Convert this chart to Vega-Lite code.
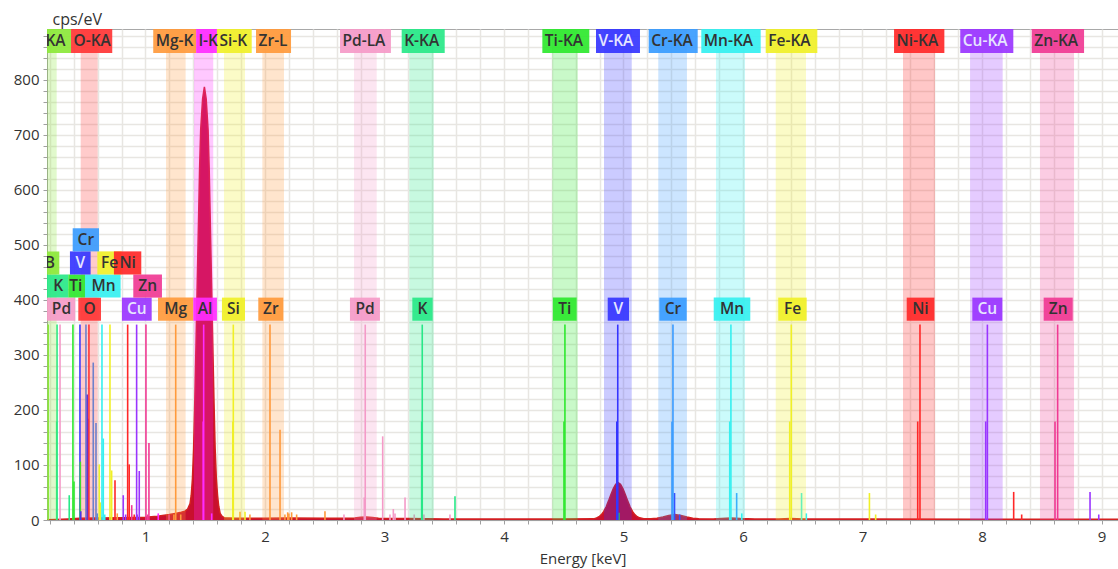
{
  "$schema": "https://vega.github.io/schema/vega-lite/v6.json",
  "width": 1071,
  "height": 491,
  "autosize": {"type": "none"},
  "padding": {"left": 47, "top": 29, "right": 0, "bottom": 49},
  "background": "white",
  "config": {
    "view": {"stroke": "#a8a8a8", "strokeWidth": 1},
    "font": "Open Sans",
    "axis": {
      "domainColor": "#a0a0a0",
      "tickColor": "#a0a0a0",
      "tickSize": 4,
      "gridColor": "#e8e6e2",
      "gridWidth": 1.5,
      "labelFont": "Open Sans",
      "labelFontSize": 15,
      "labelColor": "#333333",
      "titleFont": "Open Sans",
      "titleFontSize": 15,
      "titleFontWeight": "normal",
      "titleColor": "#333333",
      "labelOverlap": false,
      "labelFlush": false
    }
  },
  "datasets": {
    "spec": [
      {"e": 0.176, "c": 0.5}, {"e": 0.25, "c": 1}, {"e": 0.35, "c": 2}, {"e": 0.45, "c": 3},
      {"e": 0.6, "c": 3.5}, {"e": 0.8, "c": 4}, {"e": 1.0, "c": 5}, {"e": 1.1, "c": 7},
      {"e": 1.2, "c": 10}, {"e": 1.25, "c": 12}, {"e": 1.3, "c": 14}, {"e": 1.33, "c": 16},
      {"e": 1.353, "c": 20}, {"e": 1.373, "c": 30}, {"e": 1.383, "c": 45}, {"e": 1.393, "c": 75},
      {"e": 1.403, "c": 130}, {"e": 1.413, "c": 218}, {"e": 1.423, "c": 320}, {"e": 1.433, "c": 430},
      {"e": 1.444, "c": 545}, {"e": 1.453, "c": 640}, {"e": 1.462, "c": 709}, {"e": 1.478, "c": 765},
      {"e": 1.493, "c": 787}, {"e": 1.508, "c": 765}, {"e": 1.524, "c": 709}, {"e": 1.533, "c": 640},
      {"e": 1.542, "c": 545}, {"e": 1.553, "c": 430}, {"e": 1.563, "c": 320}, {"e": 1.573, "c": 218},
      {"e": 1.583, "c": 130}, {"e": 1.593, "c": 75}, {"e": 1.603, "c": 45}, {"e": 1.613, "c": 25},
      {"e": 1.625, "c": 12}, {"e": 1.64, "c": 7}, {"e": 1.66, "c": 4}, {"e": 1.75, "c": 3},
      {"e": 2.0, "c": 3}, {"e": 2.2, "c": 3.5}, {"e": 2.5, "c": 3}, {"e": 2.75, "c": 3.5},
      {"e": 2.8, "c": 5}, {"e": 2.85, "c": 5.5}, {"e": 2.9, "c": 4.5}, {"e": 2.95, "c": 3},
      {"e": 3.2, "c": 2.5}, {"e": 3.5, "c": 2}, {"e": 4.0, "c": 2}, {"e": 4.5, "c": 2},
      {"e": 4.75, "c": 2.1}, {"e": 4.775, "c": 3.9}, {"e": 4.795, "c": 6}, {"e": 4.815, "c": 9.7},
      {"e": 4.835, "c": 15.6}, {"e": 4.855, "c": 24}, {"e": 4.875, "c": 34.7}, {"e": 4.895, "c": 46.5},
      {"e": 4.915, "c": 57}, {"e": 4.935, "c": 65}, {"e": 4.955, "c": 68}, {"e": 4.975, "c": 65},
      {"e": 4.995, "c": 57}, {"e": 5.015, "c": 46.5}, {"e": 5.035, "c": 34.7}, {"e": 5.055, "c": 24},
      {"e": 5.075, "c": 15.6}, {"e": 5.095, "c": 9.7}, {"e": 5.115, "c": 6}, {"e": 5.135, "c": 3.9},
      {"e": 5.17, "c": 2.4}, {"e": 5.23, "c": 2.2}, {"e": 5.28, "c": 3.1}, {"e": 5.33, "c": 5.3},
      {"e": 5.38, "c": 8.4}, {"e": 5.43, "c": 10}, {"e": 5.48, "c": 8.4}, {"e": 5.53, "c": 5.3},
      {"e": 5.58, "c": 3.1}, {"e": 5.63, "c": 2.2}, {"e": 5.75, "c": 2}, {"e": 5.82, "c": 2.6},
      {"e": 5.9, "c": 3.5}, {"e": 5.98, "c": 2.6}, {"e": 6.1, "c": 2}, {"e": 6.3, "c": 2},
      {"e": 6.4, "c": 2.8}, {"e": 6.5, "c": 2}, {"e": 7.0, "c": 1.8}, {"e": 8.0, "c": 1.5},
      {"e": 9.14, "c": 1.5}
    ],
    "lines": [
      {"el": "B", "e": 0.186, "h": 355},
      {"el": "K", "e": 0.260, "h": 355}, {"el": "K", "e": 0.257, "h": 179}, {"el": "K", "e": 0.362, "h": 45},
      {"el": "Pd", "e": 0.285, "h": 355},
      {"el": "Ti", "e": 0.393, "h": 355}, {"el": "Ti", "e": 0.402, "h": 70},
      {"el": "V", "e": 0.452, "h": 355}, {"el": "Ti", "e": 0.455, "h": 106}, {"el": "V", "e": 0.459, "h": 16},
      {"el": "Cr", "e": 0.502, "h": 355}, {"el": "V", "e": 0.513, "h": 228}, {"el": "V", "e": 0.521, "h": 184},
      {"el": "O", "e": 0.527, "h": 355},
      {"el": "Cr", "e": 0.563, "h": 286}, {"el": "Cr", "e": 0.586, "h": 176}, {"el": "Cr", "e": 0.597, "h": 12},
      {"el": "Fe", "e": 0.613, "h": 101}, {"el": "Fe", "e": 0.622, "h": 32},
      {"el": "Mn", "e": 0.636, "h": 355}, {"el": "Mn", "e": 0.647, "h": 148}, {"el": "Mn", "e": 0.659, "h": 10},
      {"el": "Fe", "e": 0.703, "h": 355}, {"el": "Fe", "e": 0.717, "h": 90},
      {"el": "Ni", "e": 0.745, "h": 72}, {"el": "Mg", "e": 0.764, "h": 12},
      {"el": "Cu", "e": 0.814, "h": 45}, {"el": "Cu", "e": 0.834, "h": 10},
      {"el": "Ni", "e": 0.851, "h": 355}, {"el": "Ni", "e": 0.864, "h": 101}, {"el": "Zn", "e": 0.885, "h": 27},
      {"el": "Ni", "e": 0.906, "h": 10},
      {"el": "Cu", "e": 0.926, "h": 355}, {"el": "Cu", "e": 0.931, "h": 10}, {"el": "Cu", "e": 0.948, "h": 89},
      {"el": "Zn", "e": 1.004, "h": 355}, {"el": "Zn", "e": 1.018, "h": 10}, {"el": "Zn", "e": 1.029, "h": 140},
      {"el": "Al", "e": 1.107, "h": 12}, {"el": "Zn", "e": 1.197, "h": 10},
      {"el": "Mg", "e": 1.238, "h": 10}, {"el": "Mg", "e": 1.253, "h": 355}, {"el": "Mg", "e": 1.295, "h": 10},
      {"el": "Al", "e": 1.483, "h": 179}, {"el": "Al", "e": 1.487, "h": 355}, {"el": "Al", "e": 1.554, "h": 12},
      {"el": "Si", "e": 1.731, "h": 179}, {"el": "Si", "e": 1.735, "h": 355}, {"el": "Si", "e": 1.833, "h": 15},
      {"el": "Zr", "e": 1.791, "h": 15}, {"el": "Zr", "e": 1.874, "h": 10},
      {"el": "Zr", "e": 2.042, "h": 355}, {"el": "Zr", "e": 2.126, "h": 164}, {"el": "Zr", "e": 2.167, "h": 10},
      {"el": "Zr", "e": 2.19, "h": 14}, {"el": "Zr", "e": 2.20, "h": 12}, {"el": "Zr", "e": 2.223, "h": 14},
      {"el": "Zr", "e": 2.265, "h": 10}, {"el": "Zr", "e": 2.502, "h": 16},
      {"el": "Pd", "e": 2.661, "h": 10}, {"el": "Pd", "e": 2.831, "h": 41}, {"el": "Pd", "e": 2.839, "h": 355},
      {"el": "Pd", "e": 2.985, "h": 152}, {"el": "Pd", "e": 3.046, "h": 10}, {"el": "Pd", "e": 3.074, "h": 20},
      {"el": "Pd", "e": 3.088, "h": 12}, {"el": "Pd", "e": 3.172, "h": 41}, {"el": "Pd", "e": 3.249, "h": 10},
      {"el": "Pd", "e": 3.33, "h": 10}, {"el": "Pd", "e": 3.548, "h": 10},
      {"el": "K", "e": 3.311, "h": 179}, {"el": "K", "e": 3.316, "h": 355}, {"el": "K", "e": 3.59, "h": 43},
      {"el": "Ti", "e": 4.502, "h": 179}, {"el": "Ti", "e": 4.510, "h": 355}, {"el": "Ti", "e": 4.962, "h": 13},
      {"el": "V", "e": 4.944, "h": 179}, {"el": "V", "e": 4.952, "h": 355}, {"el": "V", "e": 5.427, "h": 49}, {"el": "V", "e": 5.47, "h": 10},
      {"el": "Cr", "e": 5.406, "h": 179}, {"el": "Cr", "e": 5.414, "h": 355}, {"el": "Cr", "e": 5.947, "h": 49}, {"el": "Mn", "e": 5.99, "h": 12},
      {"el": "Mn", "e": 5.889, "h": 179}, {"el": "Mn", "e": 5.899, "h": 355}, {"el": "Mn", "e": 6.49, "h": 49}, {"el": "Mn", "e": 6.53, "h": 12},
      {"el": "Fe", "e": 6.391, "h": 179}, {"el": "Fe", "e": 6.404, "h": 355}, {"el": "Fe", "e": 7.058, "h": 49}, {"el": "Fe", "e": 7.11, "h": 10},
      {"el": "Ni", "e": 7.462, "h": 179}, {"el": "Ni", "e": 7.481, "h": 355}, {"el": "Ni", "e": 8.265, "h": 51}, {"el": "Ni", "e": 8.332, "h": 10},
      {"el": "Cu", "e": 8.031, "h": 179}, {"el": "Cu", "e": 8.045, "h": 355}, {"el": "Cu", "e": 8.904, "h": 51}, {"el": "Cu", "e": 8.977, "h": 10},
      {"el": "Zn", "e": 8.611, "h": 179}, {"el": "Zn", "e": 8.633, "h": 355}
    ],
    "bands": [
      {"el": "B", "lo": 0.15, "hi": 0.257}, {"el": "O", "lo": 0.458, "hi": 0.600},
      {"el": "Mg", "lo": 1.172, "hi": 1.336}, {"el": "Al", "lo": 1.406, "hi": 1.567},
      {"el": "Si", "lo": 1.657, "hi": 1.833}, {"el": "Zr", "lo": 1.978, "hi": 2.159},
      {"el": "Pd", "lo": 2.745, "hi": 2.935}, {"el": "K", "lo": 3.208, "hi": 3.412},
      {"el": "Ti", "lo": 4.404, "hi": 4.617}, {"el": "V", "lo": 4.837, "hi": 5.069},
      {"el": "Cr", "lo": 5.291, "hi": 5.531}, {"el": "Mn", "lo": 5.774, "hi": 6.017},
      {"el": "Fe", "lo": 6.274, "hi": 6.527}, {"el": "Ni", "lo": 7.339, "hi": 7.607},
      {"el": "Cu", "lo": 7.900, "hi": 8.173}, {"el": "Zn", "lo": 8.485, "hi": 8.770}
    ],
    "top": [
      {"el": "B", "t": "B-KA", "lo": 0.015, "hi": 0.377},
      {"el": "O", "t": "O-KA", "lo": 0.377, "hi": 0.722},
      {"el": "Mg", "t": "Mg-K", "lo": 1.065, "hi": 1.424},
      {"el": "Al", "t": "l-K", "lo": 1.424, "hi": 1.598},
      {"el": "Si", "t": "Si-K", "lo": 1.598, "hi": 1.889},
      {"el": "Zr", "t": "Zr-L", "lo": 1.925, "hi": 2.218},
      {"el": "Pd", "t": "Pd-LA", "lo": 2.628, "hi": 3.054},
      {"el": "K", "t": "K-KA", "lo": 3.144, "hi": 3.504},
      {"el": "Ti", "t": "Ti-KA", "lo": 4.321, "hi": 4.714},
      {"el": "V", "t": "V-KA", "lo": 4.770, "hi": 5.138},
      {"el": "Cr", "t": "Cr-KA", "lo": 5.211, "hi": 5.621},
      {"el": "Mn", "t": "Mn-KA", "lo": 5.651, "hi": 6.148},
      {"el": "Fe", "t": "Fe-KA", "lo": 6.190, "hi": 6.622},
      {"el": "Ni", "t": "Ni-KA", "lo": 7.264, "hi": 7.685},
      {"el": "Cu", "t": "Cu-KA", "lo": 7.818, "hi": 8.262},
      {"el": "Zn", "t": "Zn-KA", "lo": 8.416, "hi": 8.854}
    ],
    "low": [
      {"el": "Pd", "t": "Pd", "lo": 0.15, "hi": 0.413, "mid": 0.297, "ylo": 362, "yhi": 404},
      {"el": "O", "t": "O", "lo": 0.438, "hi": 0.628, "mid": 0.533, "ylo": 362, "yhi": 404},
      {"el": "Cu", "t": "Cu", "lo": 0.803, "hi": 1.052, "mid": 0.928, "ylo": 362, "yhi": 404},
      {"el": "Mg", "t": "Mg", "lo": 1.105, "hi": 1.400, "mid": 1.252, "ylo": 362, "yhi": 404},
      {"el": "Al", "t": "Al", "lo": 1.400, "hi": 1.598, "mid": 1.499, "ylo": 362, "yhi": 404},
      {"el": "Si", "t": "Si", "lo": 1.640, "hi": 1.833, "mid": 1.736, "ylo": 362, "yhi": 404},
      {"el": "Zr", "t": "Zr", "lo": 1.944, "hi": 2.153, "mid": 2.049, "ylo": 362, "yhi": 404},
      {"el": "Pd", "t": "Pd", "lo": 2.711, "hi": 2.962, "mid": 2.837, "ylo": 362, "yhi": 404},
      {"el": "K", "t": "K", "lo": 3.233, "hi": 3.403, "mid": 3.318, "ylo": 362, "yhi": 404},
      {"el": "Ti", "t": "Ti", "lo": 4.410, "hi": 4.608, "mid": 4.509, "ylo": 362, "yhi": 404},
      {"el": "V", "t": "V", "lo": 4.868, "hi": 5.046, "mid": 4.957, "ylo": 362, "yhi": 404},
      {"el": "Cr", "t": "Cr", "lo": 5.300, "hi": 5.529, "mid": 5.414, "ylo": 362, "yhi": 404},
      {"el": "Mn", "t": "Mn", "lo": 5.755, "hi": 6.061, "mid": 5.908, "ylo": 362, "yhi": 404},
      {"el": "Fe", "t": "Fe", "lo": 6.295, "hi": 6.533, "mid": 6.414, "ylo": 362, "yhi": 404},
      {"el": "Ni", "t": "Ni", "lo": 7.370, "hi": 7.601, "mid": 7.485, "ylo": 362, "yhi": 404},
      {"el": "Cu", "t": "Cu", "lo": 7.919, "hi": 8.170, "mid": 8.044, "ylo": 362, "yhi": 404},
      {"el": "Zn", "t": "Zn", "lo": 8.516, "hi": 8.759, "mid": 8.638, "ylo": 362, "yhi": 404},
      {"el": "K", "t": "K", "lo": 0.15, "hi": 0.354, "mid": 0.270, "ylo": 404, "yhi": 446},
      {"el": "Ti", "t": "Ti", "lo": 0.354, "hi": 0.494, "mid": 0.416, "ylo": 404, "yhi": 446},
      {"el": "Mn", "t": "Mn", "lo": 0.494, "hi": 0.792, "mid": 0.650, "ylo": 404, "yhi": 446},
      {"el": "Zn", "t": "Zn", "lo": 0.898, "hi": 1.138, "mid": 1.018, "ylo": 404, "yhi": 446},
      {"el": "B", "t": "B", "lo": 0.15, "hi": 0.279, "mid": 0.200, "ylo": 446, "yhi": 488},
      {"el": "V", "t": "V", "lo": 0.368, "hi": 0.541, "mid": 0.455, "ylo": 446, "yhi": 488},
      {"el": "Fe", "t": "Fe", "lo": 0.597, "hi": 0.800, "mid": 0.700, "ylo": 446, "yhi": 488},
      {"el": "Ni", "t": "Ni", "lo": 0.736, "hi": 0.965, "mid": 0.851, "ylo": 446, "yhi": 488},
      {"el": "Cr", "t": "Cr", "lo": 0.391, "hi": 0.611, "mid": 0.501, "ylo": 488, "yhi": 530}
    ]
  },
  "layer": [
    {
      "data": {"name": "spec"},
      "mark": {"type": "area", "clip": true, "color": "#c8102e", "opacity": 1, "line": {"color": "#d42020", "strokeWidth": 1.5}},
      "encoding": {
        "x": {"field": "e", "type": "quantitative",
          "scale": {"domain": [0.176, 9.138], "nice": false, "zero": false},
          "axis": {"title": "Energy [keV]", "titleY": 43, "titleBaseline": "alphabetic", "labelPadding": 5,
            "values": [0.2,0.4,0.6,0.8,1,1.2,1.4,1.6,1.8,2,2.2,2.4,2.6,2.8,3,3.2,3.4,3.6,3.8,4,4.2,4.4,4.6,4.8,5,5.2,5.4,5.6,5.8,6,6.2,6.4,6.6,6.8,7,7.2,7.4,7.6,7.8,8,8.2,8.4,8.6,8.8,9],
            "labelExpr": "abs(datum.value - round(datum.value)) < 0.001 ? format(datum.value, 'd') : ''"}},
        "y": {"field": "c", "type": "quantitative",
          "scale": {"domain": [0, 892], "nice": false, "zero": true},
          "axis": {"title": "cps/eV", "titleAngle": 0, "titleAlign": "left", "titleX": 5, "titleY": -5,
            "titleBaseline": "alphabetic", "titleFontSize": 16, "labelPadding": 4,
            "values": [0,20,40,60,80,100,120,140,160,180,200,220,240,260,280,300,320,340,360,380,400,420,440,460,480,500,520,540,560,580,600,620,640,660,680,700,720,740,760,780,800,820,840,860,880],
            "labelExpr": "datum.value % 100 === 0 ? format(datum.value, 'd') : ''"}}
      }
    },
    {
      "data": {"name": "lines"},
      "mark": {"type": "rule", "clip": true, "strokeWidth": 1.6},
      "encoding": {
        "x": {"field": "e", "type": "quantitative",
          "scale": {"domain": [0.176, 9.138], "nice": false, "zero": false},
          "axis": {"title": "Energy [keV]", "titleY": 43, "titleBaseline": "alphabetic", "labelPadding": 5,
            "values": [0.2,0.4,0.6,0.8,1,1.2,1.4,1.6,1.8,2,2.2,2.4,2.6,2.8,3,3.2,3.4,3.6,3.8,4,4.2,4.4,4.6,4.8,5,5.2,5.4,5.6,5.8,6,6.2,6.4,6.6,6.8,7,7.2,7.4,7.6,7.8,8,8.2,8.4,8.6,8.8,9],
            "labelExpr": "abs(datum.value - round(datum.value)) < 0.001 ? format(datum.value, 'd') : ''"}},
        "y": {"field": "h", "type": "quantitative",
          "scale": {"domain": [0, 892], "nice": false, "zero": true},
          "axis": {"title": "cps/eV", "titleAngle": 0, "titleAlign": "left", "titleX": 5, "titleY": -5,
            "titleBaseline": "alphabetic", "titleFontSize": 16, "labelPadding": 4,
            "values": [0,20,40,60,80,100,120,140,160,180,200,220,240,260,280,300,320,340,360,380,400,420,440,460,480,500,520,540,560,580,600,620,640,660,680,700,720,740,760,780,800,820,840,860,880],
            "labelExpr": "datum.value % 100 === 0 ? format(datum.value, 'd') : ''"}},
        "y2": {"datum": 0},
        "color": {"field": "el", "type": "nominal", "legend": null,
          "scale": {"domain": ["B","O","Mg","Al","Si","Zr","Pd","K","Ti","V","Cr","Mn","Fe","Ni","Cu","Zn"],
            "range": ["#8ce83a","#ff3535","#ff9a3c","#ff2cff","#f0f028","#ff9a3c","#f59ac8","#28e888","#2ee82e","#3535ff","#3a9cff","#35f0f0","#f0f028","#ff2828","#9a35ff","#f03a94"]}}
      }
    },
    {
      "data": {"name": "bands"},
      "mark": {"type": "rect", "clip": true, "opacity": 0.26, "y": 0, "y2": 491},
      "encoding": {
        "x": {"field": "lo", "type": "quantitative",
          "scale": {"domain": [0.176, 9.138], "nice": false, "zero": false},
          "axis": {"title": "Energy [keV]", "titleY": 43, "titleBaseline": "alphabetic", "labelPadding": 5,
            "values": [0.2,0.4,0.6,0.8,1,1.2,1.4,1.6,1.8,2,2.2,2.4,2.6,2.8,3,3.2,3.4,3.6,3.8,4,4.2,4.4,4.6,4.8,5,5.2,5.4,5.6,5.8,6,6.2,6.4,6.6,6.8,7,7.2,7.4,7.6,7.8,8,8.2,8.4,8.6,8.8,9],
            "labelExpr": "abs(datum.value - round(datum.value)) < 0.001 ? format(datum.value, 'd') : ''"}},
        "x2": {"field": "hi"},
        "color": {"field": "el", "type": "nominal", "legend": null,
          "scale": {"domain": ["B","O","Mg","Al","Si","Zr","Pd","K","Ti","V","Cr","Mn","Fe","Ni","Cu","Zn"],
            "range": ["#8ce83a","#ff3535","#ff9a3c","#ff2cff","#f0f028","#ff9a3c","#f59ac8","#28e888","#2ee82e","#3535ff","#3a9cff","#35f0f0","#f0f028","#ff2828","#9a35ff","#f03a94"]}}
      }
    },
    {
      "data": {"name": "top"},
      "mark": {"type": "rect", "clip": true, "opacity": 0.92, "y": 0, "y2": 24},
      "encoding": {
        "x": {"field": "lo", "type": "quantitative",
          "scale": {"domain": [0.176, 9.138], "nice": false, "zero": false},
          "axis": {"title": "Energy [keV]", "titleY": 43, "titleBaseline": "alphabetic", "labelPadding": 5,
            "values": [0.2,0.4,0.6,0.8,1,1.2,1.4,1.6,1.8,2,2.2,2.4,2.6,2.8,3,3.2,3.4,3.6,3.8,4,4.2,4.4,4.6,4.8,5,5.2,5.4,5.6,5.8,6,6.2,6.4,6.6,6.8,7,7.2,7.4,7.6,7.8,8,8.2,8.4,8.6,8.8,9],
            "labelExpr": "abs(datum.value - round(datum.value)) < 0.001 ? format(datum.value, 'd') : ''"}},
        "x2": {"field": "hi"},
        "color": {"field": "el", "type": "nominal", "legend": null,
          "scale": {"domain": ["B","O","Mg","Al","Si","Zr","Pd","K","Ti","V","Cr","Mn","Fe","Ni","Cu","Zn"],
            "range": ["#8ce83a","#ff3535","#ff9a3c","#ff2cff","#f0f028","#ff9a3c","#f59ac8","#28e888","#2ee82e","#3535ff","#3a9cff","#35f0f0","#f0f028","#ff2828","#9a35ff","#f03a94"]}}
      }
    },
    {
      "data": {"name": "top"},
      "mark": {"type": "text", "clip": true, "align": "left", "baseline": "middle", "dx": 2.5, "y": 12, "fontSize": 15.5, "fontWeight": 600, "font": "Open Sans"},
      "encoding": {
        "x": {"field": "lo", "type": "quantitative",
          "scale": {"domain": [0.176, 9.138], "nice": false, "zero": false},
          "axis": {"title": "Energy [keV]", "titleY": 43, "titleBaseline": "alphabetic", "labelPadding": 5,
            "values": [0.2,0.4,0.6,0.8,1,1.2,1.4,1.6,1.8,2,2.2,2.4,2.6,2.8,3,3.2,3.4,3.6,3.8,4,4.2,4.4,4.6,4.8,5,5.2,5.4,5.6,5.8,6,6.2,6.4,6.6,6.8,7,7.2,7.4,7.6,7.8,8,8.2,8.4,8.6,8.8,9],
            "labelExpr": "abs(datum.value - round(datum.value)) < 0.001 ? format(datum.value, 'd') : ''"}},
        "text": {"field": "t"},
        "color": {"condition": {"test": "datum.el === 'V' || datum.el === 'Cu'", "value": "#e6e6ff"}, "value": "#333333"}
      }
    },
    {
      "data": {"name": "low"},
      "mark": {"type": "rect", "clip": true, "opacity": 0.92},
      "encoding": {
        "x": {"field": "lo", "type": "quantitative",
          "scale": {"domain": [0.176, 9.138], "nice": false, "zero": false},
          "axis": {"title": "Energy [keV]", "titleY": 43, "titleBaseline": "alphabetic", "labelPadding": 5,
            "values": [0.2,0.4,0.6,0.8,1,1.2,1.4,1.6,1.8,2,2.2,2.4,2.6,2.8,3,3.2,3.4,3.6,3.8,4,4.2,4.4,4.6,4.8,5,5.2,5.4,5.6,5.8,6,6.2,6.4,6.6,6.8,7,7.2,7.4,7.6,7.8,8,8.2,8.4,8.6,8.8,9],
            "labelExpr": "abs(datum.value - round(datum.value)) < 0.001 ? format(datum.value, 'd') : ''"}},
        "x2": {"field": "hi"},
        "y": {"field": "ylo", "type": "quantitative",
          "scale": {"domain": [0, 892], "nice": false, "zero": true},
          "axis": {"title": "cps/eV", "titleAngle": 0, "titleAlign": "left", "titleX": 5, "titleY": -5,
            "titleBaseline": "alphabetic", "titleFontSize": 16, "labelPadding": 4,
            "values": [0,20,40,60,80,100,120,140,160,180,200,220,240,260,280,300,320,340,360,380,400,420,440,460,480,500,520,540,560,580,600,620,640,660,680,700,720,740,760,780,800,820,840,860,880],
            "labelExpr": "datum.value % 100 === 0 ? format(datum.value, 'd') : ''"}},
        "y2": {"field": "yhi"},
        "color": {"field": "el", "type": "nominal", "legend": null,
          "scale": {"domain": ["B","O","Mg","Al","Si","Zr","Pd","K","Ti","V","Cr","Mn","Fe","Ni","Cu","Zn"],
            "range": ["#8ce83a","#ff3535","#ff9a3c","#ff2cff","#f0f028","#ff9a3c","#f59ac8","#28e888","#2ee82e","#3535ff","#3a9cff","#35f0f0","#f0f028","#ff2828","#9a35ff","#f03a94"]}}
      }
    },
    {
      "data": {"name": "low"},
      "mark": {"type": "text", "clip": true, "align": "center", "baseline": "middle", "dy": -11.5, "fontSize": 15.5, "fontWeight": 600, "font": "Open Sans"},
      "encoding": {
        "x": {"field": "mid", "type": "quantitative",
          "scale": {"domain": [0.176, 9.138], "nice": false, "zero": false},
          "axis": {"title": "Energy [keV]", "titleY": 43, "titleBaseline": "alphabetic", "labelPadding": 5,
            "values": [0.2,0.4,0.6,0.8,1,1.2,1.4,1.6,1.8,2,2.2,2.4,2.6,2.8,3,3.2,3.4,3.6,3.8,4,4.2,4.4,4.6,4.8,5,5.2,5.4,5.6,5.8,6,6.2,6.4,6.6,6.8,7,7.2,7.4,7.6,7.8,8,8.2,8.4,8.6,8.8,9],
            "labelExpr": "abs(datum.value - round(datum.value)) < 0.001 ? format(datum.value, 'd') : ''"}},
        "y": {"field": "ylo", "type": "quantitative",
          "scale": {"domain": [0, 892], "nice": false, "zero": true},
          "axis": {"title": "cps/eV", "titleAngle": 0, "titleAlign": "left", "titleX": 5, "titleY": -5,
            "titleBaseline": "alphabetic", "titleFontSize": 16, "labelPadding": 4,
            "values": [0,20,40,60,80,100,120,140,160,180,200,220,240,260,280,300,320,340,360,380,400,420,440,460,480,500,520,540,560,580,600,620,640,660,680,700,720,740,760,780,800,820,840,860,880],
            "labelExpr": "datum.value % 100 === 0 ? format(datum.value, 'd') : ''"}},
        "text": {"field": "t"},
        "color": {"condition": {"test": "datum.el === 'V' || datum.el === 'Cu'", "value": "#e6e6ff"}, "value": "#333333"}
      }
    }
  ]
}
